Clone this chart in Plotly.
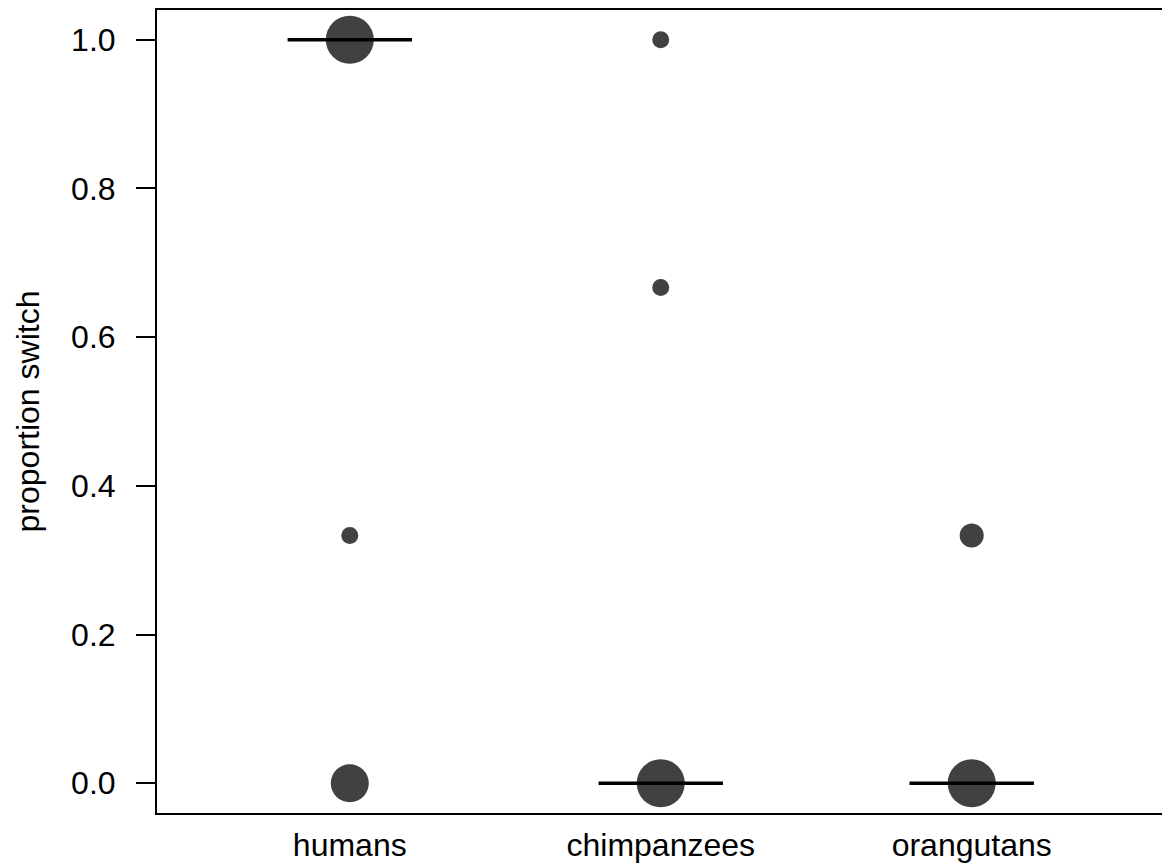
import plotly.graph_objects as go

# ---- data ----
categories = ["humans", "chimpanzees", "orangutans"]
cat_pos = [1, 2, 3]
# proportion-switch values observed per group and number of individuals at each value
humans_props = [1.0, 1/3, 0.0]
humans_counts = [8, 1, 5]
chimps_props = [1.0, 2/3, 0.0]
chimps_counts = [1, 1, 8]
orang_props = [1/3, 0.0]
orang_counts = [2, 8]
medians = [1.0, 0.0, 0.0]
y_ticks = [0.0, 0.2, 0.4, 0.6, 0.8, 1.0]
y_ticktext = ["0.0", "0.2", "0.4", "0.6", "0.8", "1.0"]

groups = [
    (humans_props, humans_counts),
    (chimps_props, chimps_counts),
    (orang_props, orang_counts),
]

POINT_COLOR = "#414141"
BASE_D = 17  # marker diameter (px) for a single individual
FONT = "Liberation Sans, Arial, Helvetica, sans-serif"
FS = 32

fig = go.Figure()

for pos, (props, counts) in zip(cat_pos, groups):
    fig.add_trace(go.Scatter(
        x=[pos] * len(props),
        y=props,
        mode="markers",
        marker=dict(
            size=[BASE_D * c ** 0.5 for c in counts],
            color=POINT_COLOR,
            opacity=1,
            line=dict(width=0),
        ),
        showlegend=False,
        hoverinfo="skip",
    ))

half_w = 0.2
for pos, m in zip(cat_pos, medians):
    fig.add_trace(go.Scatter(
        x=[pos - half_w, pos + half_w],
        y=[m, m],
        mode="lines",
        line=dict(color="black", width=3.6),
        showlegend=False,
        hoverinfo="skip",
    ))

fig.update_layout(
    width=1162,
    height=864,
    margin=dict(l=157, r=0, t=10, b=51),
    paper_bgcolor="white",
    plot_bgcolor="white",
    font=dict(family=FONT, size=FS, color="black"),
    xaxis=dict(
        range=[0.38, 3.612],
        tickmode="array",
        tickvals=cat_pos,
        ticktext=categories,
        ticks="",
        showgrid=False,
        zeroline=False,
        showline=True,
        linecolor="black",
        linewidth=2,
        mirror=True,
        automargin=False,
        ticklabelstandoff=3,
        tickfont=dict(family=FONT, size=FS, color="black"),
    ),
    yaxis=dict(
        range=[-0.04, 1.04],
        tickmode="array",
        tickvals=y_ticks,
        ticktext=y_ticktext,
        ticks="outside",
        ticklen=19,
        tickwidth=2,
        tickcolor="black",
        showgrid=False,
        zeroline=False,
        showline=True,
        linecolor="black",
        linewidth=2,
        automargin=False,
        ticklabelstandoff=14,
        tickfont=dict(family=FONT, size=FS, color="black"),
        title=dict(text="proportion switch", font=dict(family=FONT, size=FS, color="black"), standoff=22),
    ),
)

fig.write_html(
    "out.html",
    config={"displayModeBar": False},
    post_script="document.body.style.margin='0px';document.body.style.overflow='hidden';",
)
